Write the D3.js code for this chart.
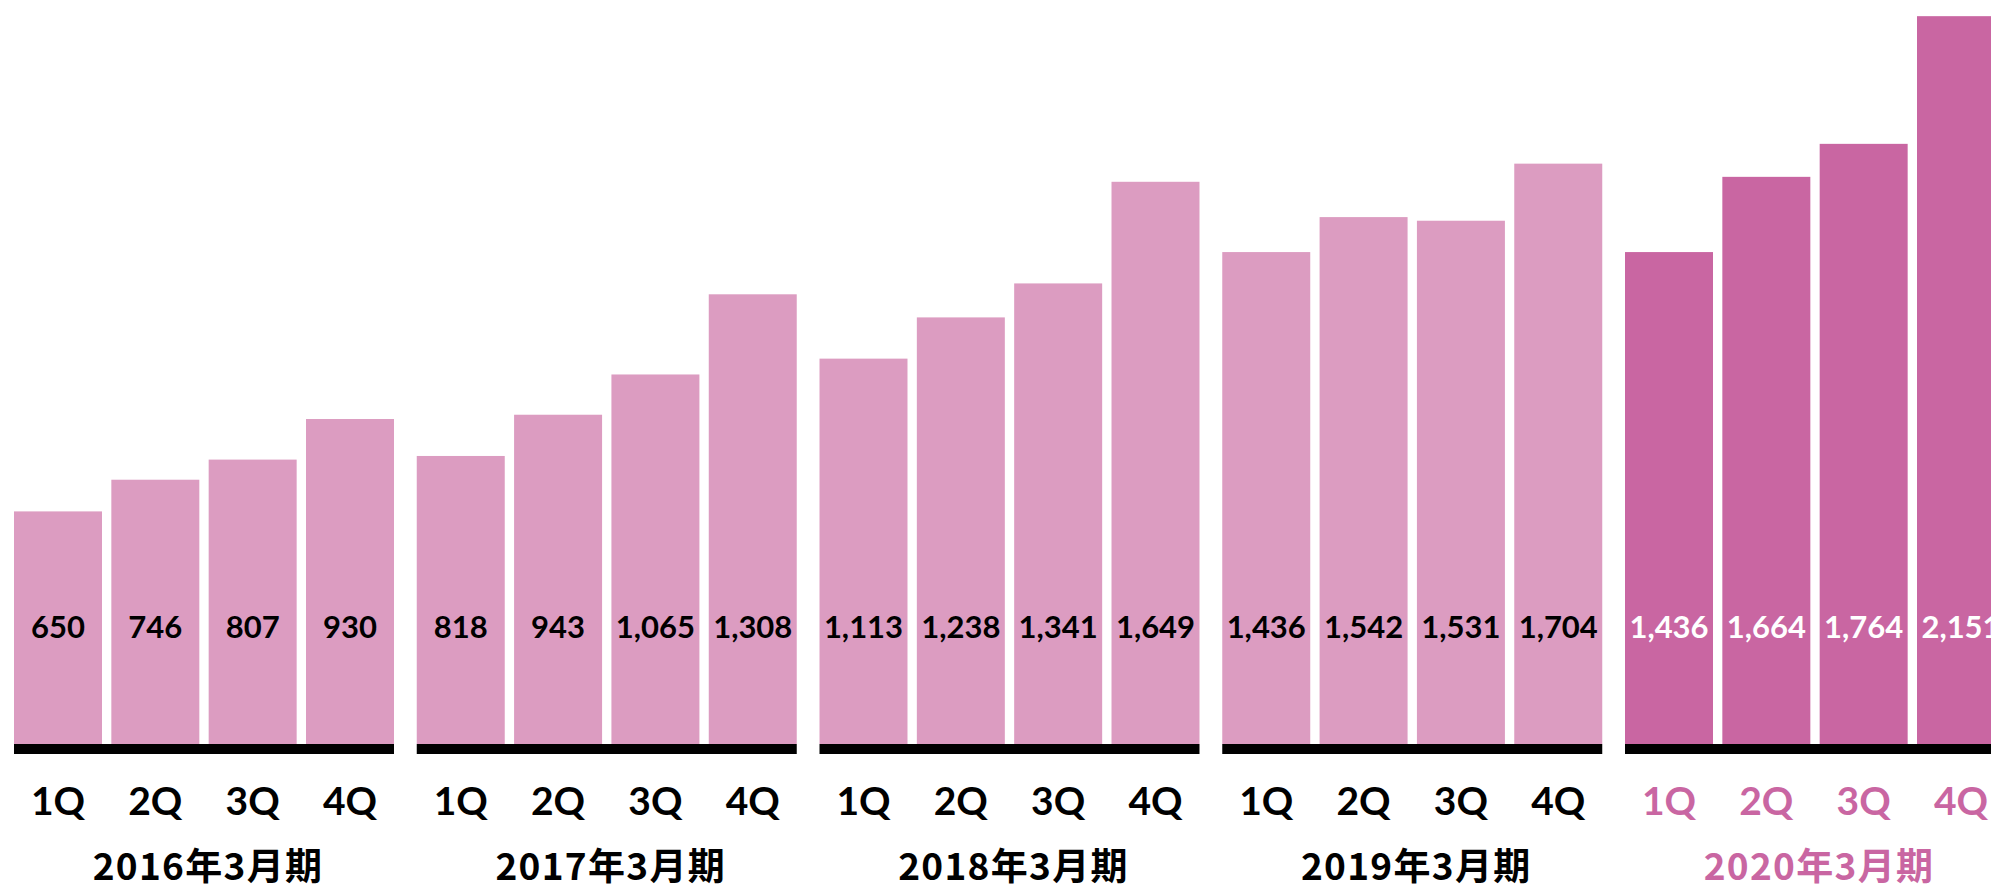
<!DOCTYPE html>
<html>
<head>
<meta charset="utf-8">
<script src="https://cdn.jsdelivr.net/npm/d3@7"></script>
<style>
  html, body { margin: 0; padding: 0; background: #ffffff; overflow: hidden; }
  svg { display: block; }
</style>
</head>
<body>
<svg id="chart" width="1991" height="890"></svg>
<script>
// Fiscal years (ending March) and quarters
const years = ["2016年3月期", "2017年3月期", "2018年3月期", "2019年3月期", "2020年3月期"];
const quarters = ["1Q", "2Q", "3Q", "4Q"];

// Quarterly values per fiscal year
const fy2016 = [650, 746, 807, 930];
const fy2017 = [818, 943, 1065, 1308];
const fy2018 = [1113, 1238, 1341, 1649];
const fy2019 = [1436, 1542, 1531, 1704];
const fy2020 = [1436, 1664, 1764, 2151];
const seriesByYear = [fy2016, fy2017, fy2018, fy2019, fy2020];

// Value axis extent
const yDomain = [-55, 2200];

const highlightYear = "2020年3月期";
const colorNormal = "#dc9cc1";
const colorHighlight = "#c966a2";

const baseY = 744;

const svg = d3.select("#chart");

const x0 = d3.scaleBand()
  .domain(years)
  .range([14, 2005])
  .paddingInner(0.0565)
  .paddingOuter(0);

const x1 = d3.scaleBand()
  .domain(quarters)
  .range([0, x0.bandwidth()])
  .paddingInner(0.096)
  .paddingOuter(0);

const y = d3.scaleLinear().domain(yDomain).range([baseY, 0]);

const rows = years.map((yr, i) => ({
  year: yr,
  items: quarters.map((q, j) => ({ year: yr, q, v: seriesByYear[i][j] }))
}));

const fmt = d3.format(",");

const groups = svg.selectAll("g.year")
  .data(rows)
  .join("g")
  .attr("class", "year")
  .attr("transform", d => `translate(${x0(d.year)},0)`);

// Bars
groups.selectAll("rect.bar")
  .data(d => d.items)
  .join("rect")
  .attr("class", "bar")
  .attr("x", d => x1(d.q))
  .attr("width", x1.bandwidth())
  .attr("y", d => y(d.v))
  .attr("height", d => y(yDomain[0]) - y(d.v))
  .attr("fill", d => d.year === highlightYear ? colorHighlight : colorNormal);

// Baseline under each year group
groups.append("rect")
  .attr("x", 0)
  .attr("y", baseY)
  .attr("width", x0.bandwidth())
  .attr("height", 10)
  .attr("fill", "#000");

// Value labels inside bars
groups.selectAll("text.val")
  .data(d => d.items)
  .join("text")
  .attr("class", "val")
  .attr("x", d => x1(d.q) + x1.bandwidth() / 2)
  .attr("y", 638)
  .attr("text-anchor", "middle")
  .attr("font-family", "Lato, 'Noto Sans', sans-serif")
  .attr("font-weight", 700)
  .attr("font-size", 31)
  .attr("fill", d => d.year === highlightYear ? "#ffffff" : "#000000")
  .text(d => fmt(d.v));

// Quarter labels
groups.selectAll("text.q")
  .data(d => d.items)
  .join("text")
  .attr("class", "q")
  .attr("x", d => x1(d.q) + x1.bandwidth() / 2)
  .attr("y", 815)
  .attr("text-anchor", "middle")
  .attr("font-family", "Lato, 'Noto Sans', sans-serif")
  .attr("font-weight", 700)
  .attr("font-size", 39)
  .attr("fill", d => d.year === highlightYear ? colorHighlight : "#000000")
  .text(d => d.q);

// Fiscal year labels
groups.append("text")
  .attr("x", x0.bandwidth() / 2 + 4)
  .attr("y", 880)
  .attr("text-anchor", "middle")
  .attr("font-family", "'Noto Sans CJK JP', sans-serif")
  .attr("font-weight", 700)
  .attr("font-size", 37)
  .attr("letter-spacing", 1.3)
  .attr("fill", d => d.year === highlightYear ? colorHighlight : "#000000")
  .text(d => d.year);
</script>
</body>
</html>
